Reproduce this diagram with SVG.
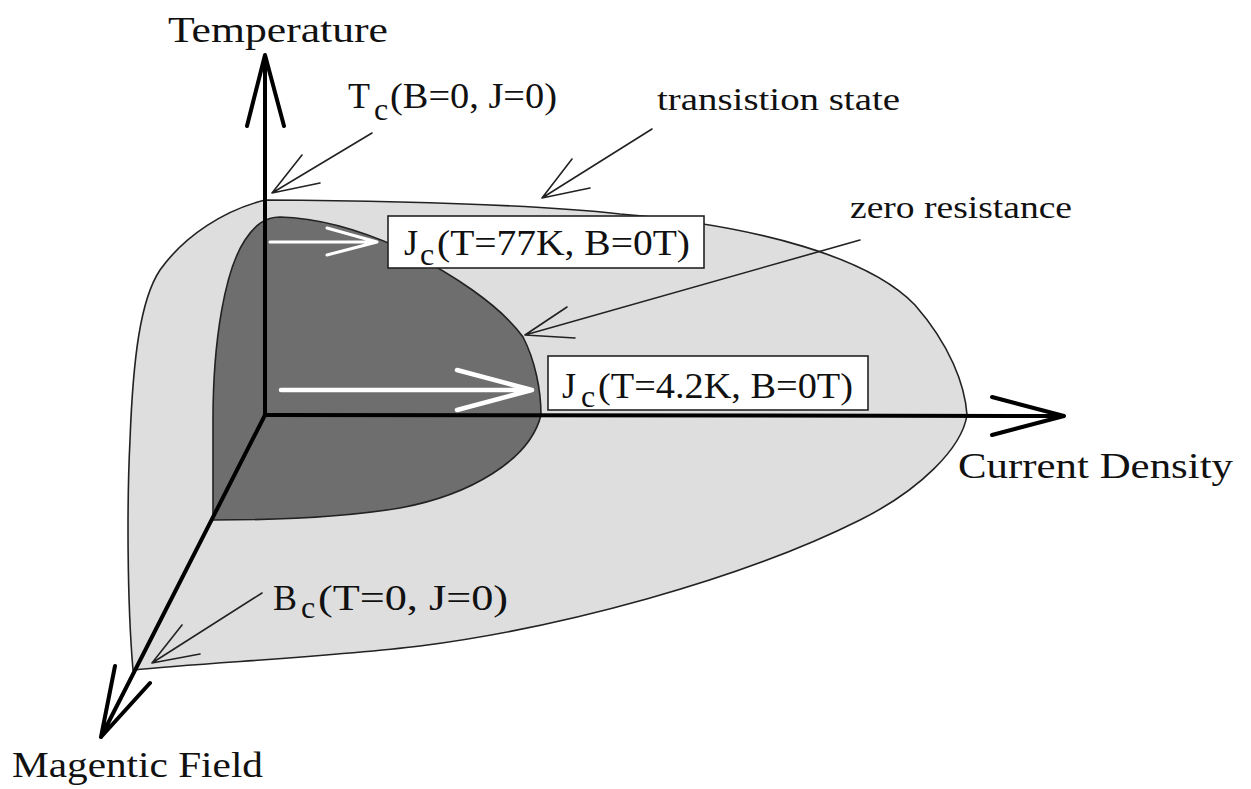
<svg xmlns="http://www.w3.org/2000/svg" width="1251" height="789" viewBox="0 0 1251 789">
<style>
.lbl{font-family:"Liberation Serif","Times New Roman",serif;fill:#111;}
.big{font-size:36px;}
.small{font-size:32px;}
.sub{font-size:32px;}
.ptr{fill:none;stroke:#222;stroke-width:1.6;stroke-linecap:round;stroke-linejoin:round;}
.wht{fill:none;stroke:#fff;stroke-linecap:round;stroke-linejoin:round;}
.axis{fill:none;stroke:#000;stroke-width:4;stroke-linecap:round;stroke-linejoin:round;}
.box{fill:#fff;stroke:#222;stroke-width:1.6;}
</style>
<rect width="1251" height="789" fill="#fff"/>
<g id="transition-region">
<path d="M 265,200 C 400,201 540,205 620,214 C 760,226 870,258 915,305 C 950,345 965,385 967,415 C 962,448 920,490 860,520 C 740,580 560,628 420,646 C 330,657 200,663 133,670 C 127,600 127,500 130,440 C 133,360 140,300 160,270 C 185,235 225,210 265,200 Z" fill="#dedede" stroke="#222" stroke-width="1.6"/>
</g>
<g id="zero-resistance-region">
<path d="M 280,217 C 320,218 360,230 400,248 C 450,272 500,305 523,337 C 535,360 541,390 541,415 C 530,460 470,495 400,508 C 340,518 270,520 213,520 L 213,420 C 213,340 225,270 245,240 C 255,225 265,217 280,217 Z" fill="#6e6e6e" stroke="#222" stroke-width="1.6"/>
</g>
<g id="connectors">
<path class="wht" stroke-width="3" d="M 270,242 L 377,242 M 327,228 L 377,242 L 327,255"/>
<path class="wht" stroke-width="4.5" d="M 281,390 L 532,390 M 457,370 L 532,390 L 457,410"/>
<path class="ptr" d="M 372,133 L 272,193 M 302,155 L 272,193 L 320,183"/>
<path class="ptr" d="M 652,129 L 542,198 M 572,159 L 542,198 L 590,188"/>
<path class="ptr" d="M 860,240 L 525,335 M 567,307 L 525,335 L 575,338"/>
<path class="ptr" d="M 262,593 L 152,663 M 182,625 L 152,663 L 200,654"/>
</g>
<g id="axes">
<path class="axis" d="M 265,415 L 265,55 M 247,126 L 265,55 L 284,126"/>
<path class="axis" d="M 265,415 L 1064,416 M 992,397 L 1064,416 L 992,435"/>
<path class="axis" d="M 265,415 L 101,737 M 115,666 L 101,737 L 150,683"/>
</g>
<g id="label-temperature">
<text class="lbl big" x="168" y="42" textLength="220" lengthAdjust="spacingAndGlyphs">Temperature</text>
</g>
<g id="label-current-density">
<text class="lbl big" x="958" y="478" textLength="275" lengthAdjust="spacingAndGlyphs">Current Density</text>
</g>
<g id="label-magnetic-field">
<text class="lbl big" x="12" y="777" textLength="251" lengthAdjust="spacingAndGlyphs">Magentic Field</text>
</g>
<g id="label-tc">
<text class="lbl big" x="348" y="108">T</text>
<text class="lbl sub" x="374" y="120">c</text>
<text class="lbl big" x="390" y="108" textLength="167" lengthAdjust="spacingAndGlyphs">(B=0, J=0)</text>
</g>
<g id="label-transition">
<text class="lbl small" x="657" y="110" textLength="243" lengthAdjust="spacingAndGlyphs">transistion state</text>
</g>
<g id="label-zero-resistance">
<text class="lbl small" x="850" y="218" textLength="222" lengthAdjust="spacingAndGlyphs">zero resistance</text>
</g>
<g id="box-jc77">
<rect class="box" x="388" y="216" width="316" height="52"/>
<text class="lbl big" x="404" y="255">J</text>
<text class="lbl sub" x="420" y="265">c</text>
<text class="lbl big" x="437" y="255" textLength="253" lengthAdjust="spacingAndGlyphs">(T=77K, B=0T)</text>
</g>
<g id="box-jc42">
<rect class="box" x="548" y="356" width="320" height="54"/>
<text class="lbl big" x="562" y="398">J</text>
<text class="lbl sub" x="581" y="407">c</text>
<text class="lbl big" x="598" y="398" textLength="255" lengthAdjust="spacingAndGlyphs">(T=4.2K, B=0T)</text>
</g>
<g id="label-bc">
<text class="lbl big" x="273" y="610">B</text>
<text class="lbl sub" x="301" y="618">c</text>
<text class="lbl big" x="318" y="610" textLength="190" lengthAdjust="spacingAndGlyphs">(T=0, J=0)</text>
</g>
</svg>
